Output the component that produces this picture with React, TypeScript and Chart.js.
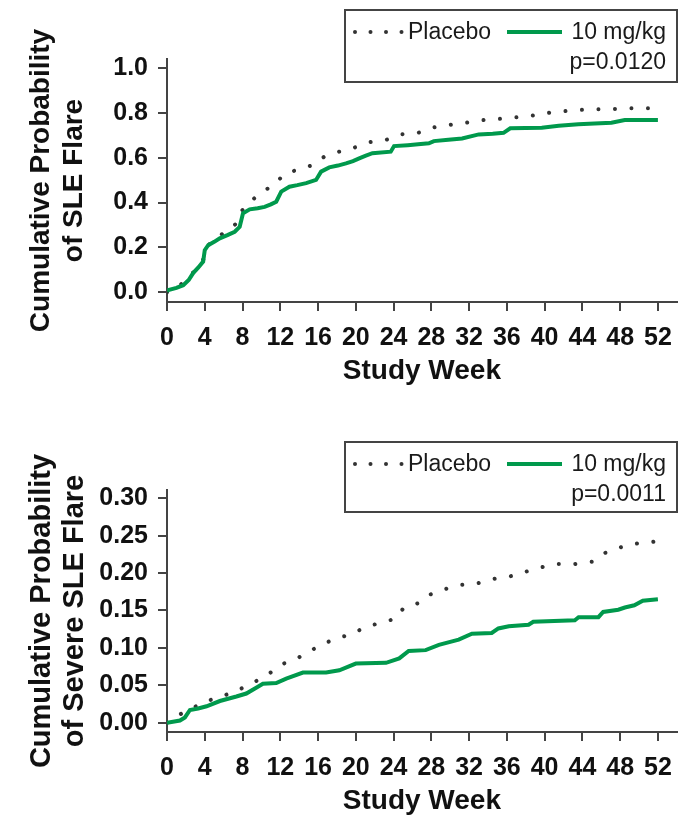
import React, { useEffect, useRef } from "react";
import { Chart, registerables } from "chart.js";

Chart.register(...registerables);
Chart.defaults.font.family = '"Liberation Sans", Arial, Helvetica, sans-serif';

// ---------- data ----------
const WEEK_TICKS = [0, 4, 8, 12, 16, 20, 24, 28, 32, 36, 40, 44, 48, 52];
const TOP_Y_TICKS = [0, 0.2, 0.4, 0.6, 0.8, 1.0];
const BOTTOM_Y_TICKS = [0, 0.05, 0.1, 0.15, 0.2, 0.25, 0.3];

const X_TITLE = "Study Week";
const TOP_Y_TITLE = ["Cumulative Probability", "of SLE Flare"];
const BOTTOM_Y_TITLE = ["Cumulative Probability", "of Severe SLE Flare"];
const PLACEBO_LABEL = "Placebo";
const DRUG_LABEL = "10 mg/kg";
const TOP_P = "p=0.0120";
const BOTTOM_P = "p=0.0011";

// Top: any SLE flare
const topDrugWeeks = [0, 0.14, 1.0, 1.72, 2.3, 2.77, 3.3, 3.83, 4.0, 4.36, 5.0, 5.59, 6.4, 7.17, 7.7, 8.05, 8.76, 9.6, 10.34, 11.0, 11.57, 12.1, 12.97, 13.8, 14.74, 15.79, 16.32, 17.19, 18.1, 18.96, 19.7, 20.36, 21.0, 21.76, 23.7, 24.05, 25.5, 26.6, 27.74, 28.27, 29.8, 31.26, 33.02, 34.5, 35.65, 36.36, 38.0, 39.7, 41.5, 43.57, 45.3, 47.08, 48.49, 52.0];
const topDrugValues = [0.005, 0.01, 0.02, 0.032, 0.055, 0.086, 0.11, 0.137, 0.188, 0.21, 0.225, 0.241, 0.255, 0.27, 0.292, 0.352, 0.37, 0.375, 0.381, 0.392, 0.404, 0.449, 0.471, 0.478, 0.487, 0.501, 0.538, 0.557, 0.565, 0.575, 0.585, 0.597, 0.608, 0.62, 0.627, 0.652, 0.656, 0.66, 0.664, 0.674, 0.68, 0.686, 0.704, 0.707, 0.711, 0.731, 0.733, 0.734, 0.742, 0.749, 0.752, 0.756, 0.768, 0.768];

const topPlaceboWeeks = [0, 1.37, 2.8, 3.9, 4.3, 4.71, 6.12, 7.35, 7.88, 8.93, 10.09, 11.39, 12.38, 13.96, 15.5, 16.67, 18.25, 19.83, 21.41, 23.17, 24.76, 26.6, 28.1, 29.9, 31.7, 33.5, 35.5, 37.3, 39.2, 40.9, 42.9, 44.7, 46.8, 48.8, 50.9, 52];
const topPlaceboValues = [0, 0.031, 0.09, 0.15, 0.2, 0.232, 0.266, 0.307, 0.362, 0.408, 0.449, 0.479, 0.527, 0.548, 0.568, 0.605, 0.627, 0.645, 0.669, 0.679, 0.704, 0.711, 0.734, 0.746, 0.756, 0.768, 0.774, 0.781, 0.79, 0.804, 0.81, 0.816, 0.816, 0.82, 0.82, 0.82];

// Bottom: severe SLE flare
const botDrugWeeks = [0, 1.37, 1.9, 2.43, 3.3, 4.19, 5.6, 7.35, 8.4, 9.63, 10.16, 11.57, 12.63, 14.4, 16.85, 18.25, 20.0, 23.2, 24.6, 25.6, 27.4, 28.8, 30.9, 32.3, 34.4, 35.1, 36.2, 38.3, 38.8, 43.2, 43.6, 45.7, 46.2, 47.8, 48.5, 49.5, 50.4, 52.0];
const botDrugValues = [0, 0.003, 0.007, 0.017, 0.019, 0.022, 0.029, 0.035, 0.039, 0.048, 0.052, 0.053, 0.059, 0.067, 0.067, 0.07, 0.079, 0.08, 0.086, 0.096, 0.097, 0.104, 0.111, 0.119, 0.12, 0.126, 0.129, 0.131, 0.135, 0.137, 0.141, 0.141, 0.148, 0.151, 0.154, 0.157, 0.163, 0.165];

const botPlaceboWeeks = [0, 1.19, 2.6, 4.0, 5.5, 7.1, 8.4, 9.8, 11.1, 12.34, 13.8, 15.16, 16.5, 17.96, 19.6, 20.96, 22.5, 24.2, 25.1, 26.7, 27.8, 29.3, 31.0, 32.8, 34.5, 36.2, 37.8, 39.4, 41.2, 43.2, 45.0, 46.2, 47.7, 49.3, 51.2, 52];
const botPlaceboValues = [0, 0.01, 0.019, 0.028, 0.034, 0.041, 0.049, 0.058, 0.068, 0.079, 0.086, 0.096, 0.105, 0.113, 0.118, 0.128, 0.133, 0.139, 0.154, 0.16, 0.171, 0.178, 0.184, 0.186, 0.192, 0.195, 0.201, 0.207, 0.212, 0.212, 0.215, 0.226, 0.233, 0.239, 0.241, 0.243];

// ---------- style ----------
const GREEN = "#00994c";
const DOT = "#333333";
const AXIS = "#444444";
const TEXT = "#111111";
const W = 684;

const toXY = (xs: number[], ys: number[]) => xs.map((x, i) => ({ x, y: ys[i] }));

const boxLegend = {
  id: "boxLegend",
  afterDraw(chart: any, _args: any, opts: any) {
    const ctx = chart.ctx as CanvasRenderingContext2D;
    const { x, y, w, h, pText } = opts;
    ctx.save();
    ctx.fillStyle = "#ffffff";
    ctx.fillRect(x, y, w, h);
    ctx.strokeStyle = AXIS;
    ctx.lineWidth = 2;
    ctx.strokeRect(x, y, w, h);
    ctx.fillStyle = DOT;
    for (let i = 0; i < 4; i++) {
      ctx.beginPath();
      ctx.arc(x + 10 + i * 15.5, y + 22, 2, 0, Math.PI * 2);
      ctx.fill();
    }
    ctx.font = '23px "Liberation Sans", Arial, sans-serif';
    ctx.fillStyle = "#1a1a1a";
    ctx.textBaseline = "alphabetic";
    ctx.textAlign = "left";
    ctx.fillText(PLACEBO_LABEL, x + 63, y + 29);
    ctx.strokeStyle = GREEN;
    ctx.lineWidth = 4;
    ctx.beginPath();
    ctx.moveTo(x + 162, y + 22);
    ctx.lineTo(x + 217, y + 22);
    ctx.stroke();
    ctx.textAlign = "right";
    ctx.fillText(DRUG_LABEL, x + w - 11, y + 29);
    ctx.fillText(pText, x + w - 11, y + 59);
    ctx.restore();
  },
};

type Cfg = {
  height: number;
  chartTop: number;
  xAxisHeight: number;
  yMin: number;
  yMax: number;
  yTicks: number[];
  decimals: number;
  yTitle: string[];
  yTitleSize: number;
  drug: { x: number; y: number }[];
  placebo: { x: number; y: number }[];
  legend: { x: number; y: number; w: number; h: number; pText: string };
};

function KMChart({ cfg }: { cfg: Cfg }) {
  const ref = useRef<HTMLCanvasElement>(null);
  useEffect(() => {
    const chart = new Chart(ref.current as HTMLCanvasElement, {
      type: "line",
      data: {
        datasets: [
          {
            label: DRUG_LABEL,
            data: cfg.drug,
            borderColor: GREEN,
            borderWidth: 4,
            pointRadius: 0,
            tension: 0,
            fill: false,
          },
          {
            label: PLACEBO_LABEL,
            data: cfg.placebo,
            borderColor: DOT,
            borderWidth: 4,
            borderDash: [0.01, 16.5],
            borderCapStyle: "round",
            pointRadius: 0,
            tension: 0,
            fill: false,
          },
        ],
      },
      plugins: [boxLegend as any],
      options: {
        responsive: false,
        maintainAspectRatio: false,
        animation: false,
        layout: { padding: { top: cfg.chartTop, right: 5, left: 0, bottom: 0 } },
        plugins: {
          legend: { display: false },
          tooltip: { enabled: false },
          boxLegend: cfg.legend,
        } as any,
        scales: {
          x: {
            type: "linear",
            min: 0,
            max: 54,
            afterBuildTicks: (s: any) => {
              s.ticks = WEEK_TICKS.map((v) => ({ value: v }));
            },
            afterFit: (s: any) => {
              s.height = cfg.xAxisHeight;
            },
            grid: { drawOnChartArea: false, drawTicks: true, tickLength: 9, color: AXIS, lineWidth: 2 },
            border: { color: AXIS, width: 2 },
            ticks: {
              autoSkip: false,
              maxRotation: 0,
              minRotation: 0,
              color: TEXT,
              padding: 12,
              font: { size: 25, weight: "bold" },
              callback: (v: any) => String(v),
            },
            title: {
              display: true,
              text: X_TITLE,
              color: TEXT,
              font: { size: 28, weight: "bold", lineHeight: 1.2 },
              padding: { top: 0, bottom: 0 },
            },
          },
          y: {
            type: "linear",
            min: cfg.yMin,
            max: cfg.yMax,
            afterBuildTicks: (s: any) => {
              s.ticks = cfg.yTicks.map((v) => ({ value: v }));
            },
            afterFit: (s: any) => {
              s.width = 167;
            },
            grid: { drawOnChartArea: false, drawTicks: true, tickLength: 9, color: AXIS, lineWidth: 2 },
            border: { color: AXIS, width: 2 },
            ticks: {
              color: TEXT,
              padding: 10,
              font: { size: 25, weight: "bold" },
              callback: (v: any) => Number(v).toFixed(cfg.decimals),
            },
            title: {
              display: true,
              text: cfg.yTitle,
              color: TEXT,
              font: { size: cfg.yTitleSize, weight: "bold", lineHeight: 33 / cfg.yTitleSize },
              padding: { top: 25, bottom: 0 },
            },
          },
        },
      } as any,
    });
    return () => chart.destroy();
  }, []);
  return (
    <div style={{ width: W, height: cfg.height, position: "relative" }}>
      <canvas ref={ref} width={W} height={cfg.height} style={{ display: "block" }} />
    </div>
  );
}

const TOP_CFG: Cfg = {
  height: 388,
  chartTop: 59,
  xAxisHeight: 86,
  yMin: -0.043,
  yMax: 1.04,
  yTicks: TOP_Y_TICKS,
  decimals: 1,
  yTitle: TOP_Y_TITLE,
  yTitleSize: 28,
  drug: toXY(topDrugWeeks, topDrugValues),
  placebo: toXY(topPlaceboWeeks, topPlaceboValues),
  legend: { x: 345, y: 10, w: 332, h: 72, pText: TOP_P },
};

const BOTTOM_CFG: Cfg = {
  height: 430,
  chartTop: 102,
  xAxisHeight: 86,
  yMin: -0.0124,
  yMax: 0.311,
  yTicks: BOTTOM_Y_TICKS,
  decimals: 2,
  yTitle: BOTTOM_Y_TITLE,
  yTitleSize: 29,
  drug: toXY(botDrugWeeks, botDrugValues),
  placebo: toXY(botPlaceboWeeks, botPlaceboValues),
  legend: { x: 345, y: 54, w: 332, h: 70, pText: BOTTOM_P },
};

export default function App() {
  useEffect(() => {
    document.body.style.margin = "0";
  }, []);
  return (
    <div style={{ width: W, background: "#ffffff" }}>
      <style>{"body{margin:0;}"}</style>
      <KMChart cfg={TOP_CFG} />
      <KMChart cfg={BOTTOM_CFG} />
    </div>
  );
}
